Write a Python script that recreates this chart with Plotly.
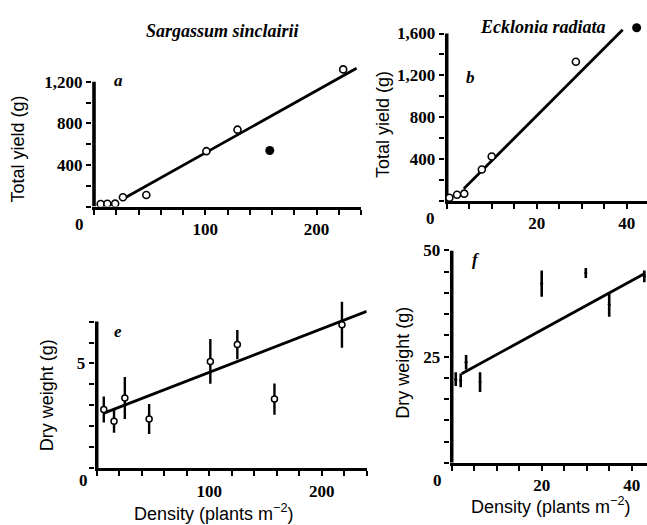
import numpy as np
import plotly.graph_objects as go

W, H = 647, 525

# ---- (a) Sargassum sinclairii: total yield vs density ----
sarg_yield_open_x = [6, 12, 19, 26, 47, 101, 129, 224]
sarg_yield_open_y = [25, 27, 28, 90, 111, 533, 740, 1320]
sarg_yield_filled_x = [158]
sarg_yield_filled_y = [540]
sarg_yield_fit = (-84.0, 6.0)          # intercept, slope
sarg_yield_fit_span = [28, 236]

# ---- (b) Ecklonia radiata: total yield vs density ----
eck_yield_open_x = [0.6, 2.3, 3.9, 7.8, 10.0, 28.7]
eck_yield_open_y = [30, 60, 70, 300, 425, 1330]
eck_yield_filled_x = [42.2]
eck_yield_filled_y = [1655]
eck_yield_fit = (-46.0, 43.0)
eck_yield_fit_span = [3.8, 39.1]

# ---- (e) Sargassum sinclairii: dry weight per plant ----
sarg_dw_x = [6.3, 15.4, 25, 46.6, 101, 125, 158, 218]
sarg_dw_y = [2.8, 2.25, 3.35, 2.35, 5.1, 5.9, 3.3, 6.85]
sarg_dw_err = [0.62, 0.56, 1.0, 0.72, 1.07, 0.7, 0.75, 1.1]
sarg_dw_fit = (2.5, 0.0208)
sarg_dw_fit_span = [7, 240]

# ---- (f) Ecklonia radiata: dry weight per plant ----
eck_dw_x = [0.9, 2.0, 3.2, 6.3, 20, 29.8, 35, 42.8]
eck_dw_y = [19.7, 19.4, 23.7, 19.0, 42.2, 44.7, 37.3, 43.9]
eck_dw_err = [1.6, 1.6, 1.7, 2.3, 3.1, 1.2, 2.9, 1.4]
eck_dw_fit = (19.7, 0.58)
eck_dw_fit_span = [2.2, 43]

# tick definitions (positions + labels) per panel
a_xticks = list(range(0, 241, 20)); a_xlabels = {100: "100", 200: "200"}
a_yticks = list(range(0, 1201, 200)); a_ylabels = {400: "400", 800: "800", 1200: "1,200"}
b_xticks = list(range(0, 45, 5)); b_xlabels = {20: "20", 40: "40"}
b_yticks = list(range(0, 1601, 200)); b_ylabels = {400: "400", 800: "800", 1200: "1,200", 1600: "1,600"}
e_xticks = list(range(0, 241, 20)); e_xlabels = {100: "100", 200: "200"}
e_yticks = list(range(0, 8)); e_ylabels = {5: "5"}
f_xticks = list(range(0, 41, 5)); f_xlabels = {20: "20", 40: "40"}
f_yticks = list(range(0, 51, 5)); f_ylabels = {25: "25", 50: "50"}

SERIF = "Liberation Serif"
SANS = "Liberation Sans"
LW = 3.0        # bottom axis line width
VLW = 3.6       # left axis line width
VPAD = 2.0      # px kept between plot edge and the left axis line


def px_dom_y(bottom, top):
    return [(H - bottom) / H, (H - top) / H]


def fit_line(fit, span):
    xs = np.array(span, dtype=float)
    return xs, fit[0] + fit[1] * xs


def axis(dom, rng, ticks, labels, line=True):
    return dict(
        domain=dom, range=rng, showgrid=False, zeroline=False,
        showline=line, linecolor="black", linewidth=LW,
        ticks="outside", ticklen=5, tickwidth=2, tickcolor="black",
        tickvals=ticks, ticktext=[labels.get(t, "") for t in ticks],
        tickfont=dict(family=SERIF, size=17, color="black", weight="bold"),
        fixedrange=True,
    )


fig = go.Figure()

panels = [
    # xaxis id, yaxis id, origin px / right px, y px (bottom, top), x max, y range, ticks
    ("x", "y", (94, 361), (201, 53), 240, [0, 1400],
     a_xticks, a_xlabels, a_yticks, a_ylabels, 1200),
    ("x2", "y2", (446.7, 647), (195.3, 9), 44.5, [0, 1750],
     b_xticks, b_xlabels, b_yticks, b_ylabels, 1600),
    ("x3", "y3", (96.7, 366.7), (467.3, 296.7), 240, [0, 8],
     e_xticks, e_xlabels, e_yticks, e_ylabels, 7),
    ("x4", "y4", (451.7, 647), (461.7, 245.7), 43.4, [0, 50],
     f_xticks, f_xlabels, f_yticks, f_ylabels, 50),
]

layout_axes = {}
for xa, ya, xd, yd, xmax, yr, xt, xl, yt, yl, ytop in panels:
    xkey = "xaxis" + xa[1:]
    ykey = "yaxis" + ya[1:]
    # the origin sits VPAD px inside the plot edge so the left axis line is not clipped
    unit = (xd[1] - xd[0]) / xmax
    pad = VPAD / unit
    left_px = xd[0] - VPAD
    xax = axis([left_px / W, xd[1] / W], [-pad, xmax], xt, xl)
    xax["anchor"] = ya
    yax = axis(px_dom_y(*yd), yr, yt, yl, line=False)
    yax["anchor"] = xa
    layout_axes[xkey] = xax
    layout_axes[ykey] = yax
    # left axis line, stopping at the top labelled tick
    fig.add_trace(go.Scatter(x=[0, 0], y=[yr[0], ytop], mode="lines",
                             xaxis=xa, yaxis=ya,
                             line=dict(color="black", width=VLW),
                             showlegend=False, hoverinfo="skip"))

# fit lines
for fit, span, xa, ya in [
    (sarg_yield_fit, sarg_yield_fit_span, "x", "y"),
    (eck_yield_fit, eck_yield_fit_span, "x2", "y2"),
    (sarg_dw_fit, sarg_dw_fit_span, "x3", "y3"),
    (eck_dw_fit, eck_dw_fit_span, "x4", "y4"),
]:
    lx, ly = fit_line(fit, span)
    fig.add_trace(go.Scatter(x=lx, y=ly, mode="lines", xaxis=xa, yaxis=ya,
                             line=dict(color="black", width=2.8),
                             showlegend=False, hoverinfo="skip"))

open_marker = dict(symbol="circle", size=7, color="white",
                   line=dict(color="black", width=1.6))
filled_marker = dict(symbol="circle", size=9, color="black")

# (a)
fig.add_trace(go.Scatter(x=sarg_yield_open_x, y=sarg_yield_open_y, mode="markers",
                         xaxis="x", yaxis="y", marker=open_marker, showlegend=False))
fig.add_trace(go.Scatter(x=sarg_yield_filled_x, y=sarg_yield_filled_y, mode="markers",
                         xaxis="x", yaxis="y", marker=filled_marker, showlegend=False))
# (b)
fig.add_trace(go.Scatter(x=eck_yield_open_x, y=eck_yield_open_y, mode="markers",
                         xaxis="x2", yaxis="y2", marker=open_marker, showlegend=False))
fig.add_trace(go.Scatter(x=eck_yield_filled_x, y=eck_yield_filled_y, mode="markers",
                         xaxis="x2", yaxis="y2", marker=filled_marker, showlegend=False))
# (e)
fig.add_trace(go.Scatter(x=sarg_dw_x, y=sarg_dw_y, mode="markers", xaxis="x3", yaxis="y3",
                         error_y=dict(type="data", array=sarg_dw_err, width=0,
                                      thickness=2.4, color="black"),
                         marker=dict(symbol="circle", size=6, color="white",
                                     line=dict(color="black", width=1.5)),
                         showlegend=False))
# (f)
fig.add_trace(go.Scatter(x=eck_dw_x, y=eck_dw_y, mode="markers", xaxis="x4", yaxis="y4",
                         error_y=dict(type="data", array=eck_dw_err, width=0,
                                      thickness=2.6, color="black"),
                         marker=dict(symbol="circle", size=3, color="black"),
                         showlegend=False))

annotations = []


def text(x, y, s, family, size, italic=False, bold=False, angle=0):
    annotations.append(dict(
        xref="paper", yref="paper", x=x / W, y=(H - y) / H, text=s,
        showarrow=False, xanchor="center", yanchor="middle", textangle=angle,
        font=dict(family=family, size=size, color="black",
                  style="italic" if italic else "normal",
                  weight="bold" if bold else "normal"),
    ))


# species titles
text(222, 22, "Sargassum sinclairii", SERIF, 18, italic=True, bold=True)
text(543, 18, "Ecklonia radiata", SERIF, 18, italic=True, bold=True)
# panel letters
text(118, 73, "a", SERIF, 17, italic=True, bold=True)
text(470, 70, "b", SERIF, 17, italic=True, bold=True)
text(118, 328, "e", SERIF, 17, italic=True, bold=True)
text(476, 255, "f", SERIF, 17, italic=True, bold=True)
# axis titles
text(18, 143, "Total yield (g)", SANS, 18, angle=-90)
text(383, 118, "Total yield (g)", SANS, 18, angle=-90)
text(47, 393, "Dry weight (g)", SANS, 18, angle=-90)
text(403, 360, "Dry weight (g)", SANS, 18, angle=-90)
text(213, 512, "Density (plants m<sup>\u2212</sup><sup>2</sup>)", SANS, 18)
text(550, 505, "Density (plants m<sup>\u2212</sup><sup>2</sup>)", SANS, 18)
# corner zero labels sit left of the origin
for x0, y0 in [(79, 219), (430, 213), (83, 480), (437, 480)]:
    text(x0, y0, "0", SERIF, 17, bold=True)

fig.update_layout(
    width=W, height=H, margin=dict(l=0, r=0, t=0, b=0),
    paper_bgcolor="white", plot_bgcolor="white",
    showlegend=False, annotations=annotations,
    **layout_axes,
)

fig.write_html("out.html")
